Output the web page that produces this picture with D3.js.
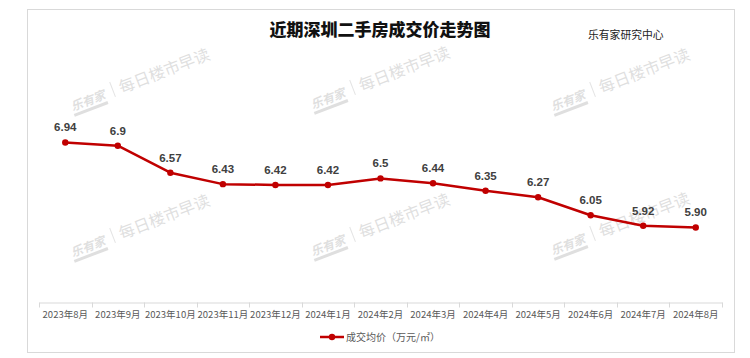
<!DOCTYPE html>
<html>
<head>
<meta charset="utf-8">
<script src="https://cdn.jsdelivr.net/npm/d3@7"></script>
<style>
  html, body { margin: 0; padding: 0; background: #ffffff; }
  svg { display: block; }
</style>
</head>
<body>
<svg id="chart" width="750" height="358"></svg>
<script>
const categories = ["2023年8月","2023年9月","2023年10月","2023年11月","2023年12月","2024年1月","2024年2月","2024年3月","2024年4月","2024年5月","2024年6月","2024年7月","2024年8月"];
const prices = [6.94, 6.9, 6.57, 6.43, 6.42, 6.42, 6.5, 6.44, 6.35, 6.27, 6.05, 5.92, 5.90];
const priceLabels = ["6.94","6.9","6.57","6.43","6.42","6.42","6.5","6.44","6.35","6.27","6.05","5.92","5.90"];
const title = "近期深圳二手房成交价走势图";
const source = "乐有家研究中心";
const seriesName = "成交均价（万元/㎡）";
const watermarkLogo = "乐有家";
const watermarkText = "每日楼市早读";

const svg = d3.select("#chart");
const CJK = "'Noto Sans CJK SC', 'Noto Sans', sans-serif";

// frame
svg.append("rect").attr("x", 27.5).attr("y", 9.5).attr("width", 707).attr("height", 343)
  .attr("fill", "#fff").attr("stroke", "#d9d9d9").attr("stroke-width", 1);

// watermarks
const wmCenters = [[140,80],[380,78],[620,80],[140,226],[380,225],[620,224]];
wmCenters.forEach(([cx, cy]) => {
  const g = svg.append("g").attr("transform", `translate(${cx},${cy}) rotate(-21)`).attr("fill", "#dfdfdf");
  g.append("text").attr("x", -74).attr("y", 5).attr("font-family", CJK).attr("font-size", 12)
    .attr("font-weight", "bold").attr("font-style", "italic").text(watermarkLogo);
  g.append("rect").attr("x", -74).attr("y", 8).attr("width", 36).attr("height", 3);
  g.append("line").attr("x1", -29).attr("x2", -29).attr("y1", -9).attr("y2", 7)
    .attr("stroke", "#e4e4e4").attr("stroke-width", 1);
  g.append("text").attr("x", -22).attr("y", 6).attr("font-family", CJK).attr("font-size", 16)
    .text(watermarkText);
});

// title & source
svg.append("text").attr("x", 380).attr("y", 36).attr("text-anchor", "middle")
  .attr("font-family", CJK).attr("font-size", 17).attr("font-weight", 900).attr("fill", "#111")
  .text(title);
svg.append("text").attr("x", 588).attr("y", 38.5).attr("font-family", CJK).attr("font-size", 10.8)
  .attr("fill", "#222").text(source);

// scales
const x = d3.scaleBand().domain(categories).range([39, 722]);
const y = d3.scaleLinear().domain([5, 7.5]).range([301, 96.7]);

// x axis
const axisY = 302.5;
const xAxis = d3.axisBottom(x).tickSize(0).tickPadding(0);
const ax = svg.append("g").attr("transform", `translate(0,${axisY})`).call(xAxis);
ax.select(".domain").attr("stroke", "#d9d9d9");
ax.selectAll(".tick text").attr("font-family", CJK).attr("font-size", 9.5)
  .attr("fill", "#595959").attr("dy", "0").attr("y", 15);
// boundary tick marks
const bounds = categories.map(c => x(c)).concat([x.range()[1]]);
svg.append("g").selectAll("line").data(bounds).join("line")
  .attr("x1", d => Math.round(d) + 0.5).attr("x2", d => Math.round(d) + 0.5)
  .attr("y1", axisY).attr("y2", axisY + 5)
  .attr("stroke", "#d9d9d9").attr("stroke-width", 1);

// line
const cx = c => x(c) + x.bandwidth() / 2;
const line = d3.line().x((d, i) => cx(categories[i])).y(d => y(d));
svg.append("path").datum(prices).attr("d", line).attr("fill", "none")
  .attr("stroke", "#c00000").attr("stroke-width", 2.5).attr("stroke-linejoin", "round");
svg.append("g").selectAll("circle").data(prices).join("circle")
  .attr("cx", (d, i) => cx(categories[i])).attr("cy", d => y(d)).attr("r", 3.2)
  .attr("fill", "#c00000");

// data labels
svg.append("g").selectAll("text").data(prices).join("text")
  .attr("x", (d, i) => cx(categories[i])).attr("y", d => y(d) - 11)
  .attr("text-anchor", "middle").attr("font-family", "'Liberation Sans', Arial, sans-serif")
  .attr("font-size", 11.5).attr("font-weight", "bold").attr("fill", "#404040")
  .text((d, i) => priceLabels[i]);

// legend
const lg = svg.append("g");
lg.append("line").attr("x1", 320).attr("x2", 344).attr("y1", 337).attr("y2", 337)
  .attr("stroke", "#c00000").attr("stroke-width", 2.5);
lg.append("circle").attr("cx", 332).attr("cy", 337).attr("r", 3.2).attr("fill", "#c00000");
lg.append("text").attr("x", 346).attr("y", 341).attr("font-family", CJK).attr("font-size", 10)
  .attr("fill", "#595959").text(seriesName);
</script>
</body>
</html>
